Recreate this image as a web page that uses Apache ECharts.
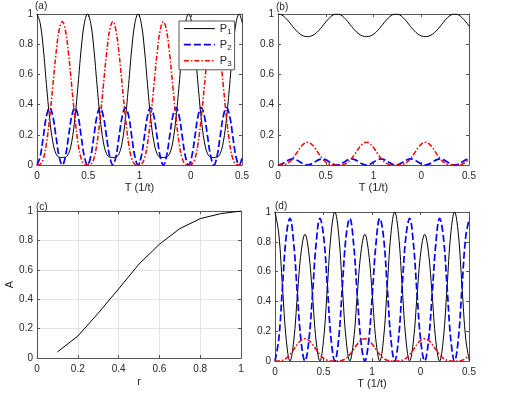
<!DOCTYPE html>
<html><head><meta charset="utf-8">
<script src="https://cdn.jsdelivr.net/npm/echarts@6/dist/echarts.min.js"></script>
<style>html,body{margin:0;padding:0;background:#fff}#c{width:518px;height:396px}</style>
</head><body><div id="c"></div>
<script>
// ---- tick labels ----
const tickLabelsT = ['0', '0.5', '1', '0', '0.5'];

// ---- panel (a) ----
const T_a = [0, 0.031, 0.062, 0.092, 0.123, 0.154, 0.185, 0.216, 0.247, 0.277, 0.308, 0.339, 0.370, 0.401, 0.431, 0.462,
  0.493, 0.524, 0.555, 0.585, 0.616, 0.647, 0.678, 0.709, 0.740, 0.770, 0.801, 0.832, 0.863, 0.894, 0.924, 0.955,
  0.986, 1.017, 1.048, 1.078, 1.109, 1.140, 1.171, 1.202, 1.233, 1.263, 1.294, 1.325, 1.356, 1.387, 1.417, 1.448,
  1.479, 1.510, 1.541, 1.571, 1.602, 1.633, 1.664, 1.695, 1.726, 1.756, 1.787, 1.818, 1.849, 1.880, 1.910, 1.941,
  1.972, 2.003];
const P1_a = [1, 0.939, 0.768, 0.534, 0.31, 0.154, 0.075, 0.052, 0.05, 0.052, 0.075, 0.154, 0.31, 0.534, 0.768, 0.939,
  1, 0.939, 0.768, 0.534, 0.31, 0.154, 0.075, 0.052, 0.05, 0.052, 0.075, 0.154, 0.31, 0.534, 0.768, 0.939,
  1, 0.939, 0.768, 0.534, 0.31, 0.154, 0.075, 0.052, 0.05, 0.052, 0.075, 0.154, 0.31, 0.534, 0.768, 0.939,
  1, 0.939, 0.768, 0.534, 0.31, 0.154, 0.075, 0.052, 0.05, 0.052, 0.075, 0.154, 0.31, 0.534, 0.768, 0.939,
  1, 0.939];
const P2_a = [0, 0.056, 0.19, 0.324, 0.38, 0.324, 0.19, 0.056, 0, 0.056, 0.19, 0.324, 0.38, 0.324, 0.19, 0.056,
  0, 0.056, 0.19, 0.324, 0.38, 0.324, 0.19, 0.056, 0, 0.056, 0.19, 0.324, 0.38, 0.324, 0.19, 0.056,
  0, 0.056, 0.19, 0.324, 0.38, 0.324, 0.19, 0.056, 0, 0.056, 0.19, 0.324, 0.38, 0.324, 0.19, 0.056,
  0, 0.056, 0.19, 0.324, 0.38, 0.324, 0.19, 0.056, 0, 0.056, 0.19, 0.324, 0.38, 0.324, 0.19, 0.056,
  0, 0.056];
const P3_a = [0, 0.005, 0.042, 0.142, 0.31, 0.522, 0.735, 0.892, 0.95, 0.892, 0.735, 0.522, 0.31, 0.142, 0.042, 0.005,
  0, 0.005, 0.042, 0.142, 0.31, 0.522, 0.735, 0.892, 0.95, 0.892, 0.735, 0.522, 0.31, 0.142, 0.042, 0.005,
  0, 0.005, 0.042, 0.142, 0.31, 0.522, 0.735, 0.892, 0.95, 0.892, 0.735, 0.522, 0.31, 0.142, 0.042, 0.005,
  0, 0.005, 0.042, 0.142, 0.31, 0.522, 0.735, 0.892, 0.95, 0.892, 0.735, 0.522, 0.31, 0.142, 0.042, 0.005,
  0, 0.005];

// ---- panels (b) and (d) share the time grid ----
const T_bd = [0, 0.039, 0.077, 0.116, 0.154, 0.193, 0.231, 0.270, 0.309, 0.347, 0.386, 0.424, 0.463, 0.501, 0.540, 0.578,
  0.617, 0.656, 0.694, 0.733, 0.771, 0.810, 0.848, 0.887, 0.926, 0.964, 1.003, 1.041, 1.080, 1.118, 1.157, 1.195,
  1.234, 1.273, 1.311, 1.350, 1.388, 1.427, 1.465, 1.504, 1.543, 1.581, 1.620, 1.658, 1.697, 1.735, 1.774, 1.812,
  1.851, 1.890, 1.928, 1.967, 2.005];
const P1_b = [1, 0.994, 0.975, 0.948, 0.917, 0.889, 0.867, 0.854, 0.85, 0.854, 0.867, 0.889, 0.917, 0.948, 0.975, 0.994,
  1, 0.994, 0.975, 0.948, 0.917, 0.889, 0.867, 0.854, 0.85, 0.854, 0.867, 0.889, 0.917, 0.948, 0.975, 0.994,
  1, 0.994, 0.975, 0.948, 0.917, 0.889, 0.867, 0.854, 0.85, 0.854, 0.867, 0.889, 0.917, 0.948, 0.975, 0.994,
  1, 0.994, 0.975, 0.948, 0.917];
const P2_b = [0, 0.006, 0.02, 0.034, 0.04, 0.034, 0.02, 0.006, 0, 0.006, 0.02, 0.034, 0.04, 0.034, 0.02, 0.006,
  0, 0.006, 0.02, 0.034, 0.04, 0.034, 0.02, 0.006, 0, 0.006, 0.02, 0.034, 0.04, 0.034, 0.02, 0.006,
  0, 0.006, 0.02, 0.034, 0.04, 0.034, 0.02, 0.006, 0, 0.006, 0.02, 0.034, 0.04, 0.034, 0.02, 0.006,
  0, 0.006, 0.02, 0.034, 0.04];
const P3_b = [0, 0, 0.005, 0.018, 0.043, 0.077, 0.113, 0.14, 0.15, 0.14, 0.113, 0.077, 0.043, 0.018, 0.005, 0,
  0, 0, 0.005, 0.018, 0.043, 0.077, 0.113, 0.14, 0.15, 0.14, 0.113, 0.077, 0.043, 0.018, 0.005, 0,
  0, 0, 0.005, 0.018, 0.043, 0.077, 0.113, 0.14, 0.15, 0.14, 0.113, 0.077, 0.043, 0.018, 0.005, 0,
  0, 0, 0.005, 0.018, 0.043];
const P1_d = [1, 0.853, 0.498, 0.144, 0, 0.135, 0.444, 0.734, 0.85, 0.734, 0.444, 0.135, 0, 0.144, 0.498, 0.853,
  1, 0.853, 0.498, 0.144, 0, 0.135, 0.444, 0.734, 0.85, 0.734, 0.444, 0.135, 0, 0.144, 0.498, 0.853,
  1, 0.853, 0.498, 0.144, 0, 0.135, 0.444, 0.734, 0.85, 0.734, 0.444, 0.135, 0, 0.144, 0.498, 0.853,
  1, 0.853, 0.498, 0.144, 0];
const P2_d = [0, 0.147, 0.498, 0.838, 0.957, 0.788, 0.444, 0.126, 0, 0.126, 0.444, 0.788, 0.957, 0.838, 0.498, 0.147,
  0, 0.147, 0.498, 0.838, 0.957, 0.788, 0.444, 0.126, 0, 0.126, 0.444, 0.788, 0.957, 0.838, 0.498, 0.147,
  0, 0.147, 0.498, 0.838, 0.957, 0.788, 0.444, 0.126, 0, 0.126, 0.444, 0.788, 0.957, 0.838, 0.498, 0.147,
  0, 0.147, 0.498, 0.838, 0.957];
const P3_d = [0, 0, 0.005, 0.018, 0.043, 0.077, 0.113, 0.14, 0.15, 0.14, 0.113, 0.077, 0.043, 0.018, 0.005, 0,
  0, 0, 0.005, 0.018, 0.043, 0.077, 0.113, 0.14, 0.15, 0.14, 0.113, 0.077, 0.043, 0.018, 0.005, 0,
  0, 0, 0.005, 0.018, 0.043, 0.077, 0.113, 0.14, 0.15, 0.14, 0.113, 0.077, 0.043, 0.018, 0.005, 0,
  0, 0, 0.005, 0.018, 0.043];

// ---- panel (c) ----
const r_c = [0.1, 0.2, 0.3, 0.4, 0.5, 0.6, 0.7, 0.8, 0.9, 1.0];
const A_c = [0.041, 0.149, 0.305, 0.47, 0.639, 0.774, 0.88, 0.948, 0.982, 1.0];

// ---- rendering ----
const FONT = '"Liberation Sans", Arial, Helvetica, sans-serif';
const AXC = '#262626';
const LINEC = '#555';
const chart = echarts.init(document.getElementById('c'), null, {renderer: 'canvas'});

const grids = [
  {left: 37, top: 14, width: 205, height: 151},
  {left: 278, top: 14, width: 191, height: 151},
  {left: 37, top: 211, width: 204, height: 147},
  {left: 275, top: 212, width: 194, height: 149}
];

const xAxes = [], yAxes = [];
function addAxes(gi, xcfg, ycfg) {
  const common = {
    gridIndex: gi, type: 'value',
    axisLine: {show: true, onZero: false, lineStyle: {color: LINEC, width: 1}},
    axisTick: {show: true, inside: true, length: 3, lineStyle: {color: LINEC, width: 1}},
  };
  xAxes.push(Object.assign({}, common, {
    position: 'bottom', min: xcfg.min, max: xcfg.max, interval: xcfg.interval,
    axisLabel: {show: true, color: AXC, fontSize: 10, fontFamily: FONT, margin: 6, formatter: xcfg.formatter},
    splitLine: {show: !!xcfg.grid, lineStyle: {color: '#e3e3e3', width: 1}},
    name: xcfg.name, nameLocation: 'middle', nameGap: xcfg.nameGap,
    nameTextStyle: {color: AXC, fontSize: 11, fontFamily: FONT}
  }));
  xAxes.push(Object.assign({}, common, {
    position: 'top', min: xcfg.min, max: xcfg.max, interval: xcfg.interval,
    axisLabel: {show: false}, splitLine: {show: false}
  }));
  yAxes.push(Object.assign({}, common, {
    position: 'left', min: 0, max: 1, interval: 0.2,
    axisLabel: {show: true, color: AXC, fontSize: 10, fontFamily: FONT, margin: 4},
    splitLine: {show: !!ycfg.grid, lineStyle: {color: '#e3e3e3', width: 1}},
    name: ycfg.name, nameLocation: 'middle', nameGap: ycfg.nameGap || 20,
    nameTextStyle: {color: AXC, fontSize: 11, fontFamily: FONT}
  }));
  yAxes.push(Object.assign({}, common, {
    position: 'right', min: 0, max: 1, interval: 0.2,
    axisLabel: {show: false}, splitLine: {show: false}
  }));
}
const fmtT = v => tickLabelsT[Math.round(v / 0.5)];
addAxes(0, {min: 0, max: 2, interval: 0.5, formatter: fmtT, name: 'T (1/t)', nameGap: 17}, {});
addAxes(1, {min: 0, max: 2, interval: 0.5, formatter: fmtT, name: 'T (1/t)', nameGap: 17}, {});
addAxes(2, {min: 0, max: 1, interval: 0.2, name: 'r', nameGap: 18, grid: true}, {name: 'A', nameGap: 19, grid: true});
addAxes(3, {min: 0, max: 2, interval: 0.5, formatter: fmtT, name: 'T (1/t)', nameGap: 17}, {});

const zip = (xs, ys) => xs.map((x, i) => [x, ys[i]]);
const styles = {
  k: {color: '#000000', width: 1, type: 'solid'},
  b: {color: '#0000ff', width: 1.7, type: [7, 3]},
  r: {color: '#ff0000', width: 1.5, type: [5, 2, 1.5, 2]}
};
function ser(name, gi, xs, ys, st, smooth) {
  return {
    name, type: 'line', xAxisIndex: gi * 2, yAxisIndex: gi * 2,
    data: zip(xs, ys), showSymbol: false, symbol: 'none', smooth: smooth, clip: true,
    lineStyle: Object.assign({}, st), itemStyle: {color: st.color}, emphasis: {disabled: true}
  };
}
const series = [
  ser('P1', 0, T_a, P1_a, styles.k, 0.4),
  ser('P2', 0, T_a, P2_a, styles.b, 0.4),
  ser('P3', 0, T_a, P3_a, styles.r, 0.4),
  ser('P1b', 1, T_bd, P1_b, styles.k, 0.4),
  ser('P2b', 1, T_bd, P2_b, styles.b, 0.4),
  ser('P3b', 1, T_bd, P3_b, styles.r, 0.4),
  ser('A', 2, r_c, A_c, styles.k, false),
  ser('P1d', 3, T_bd, P1_d, styles.k, 0.4),
  ser('P2d', 3, T_bd, P2_d, styles.b, 0.4),
  ser('P3d', 3, T_bd, P3_d, styles.r, 0.4)
];

const panelLabel = (txt, x, y) => ({
  type: 'text', left: x, top: y,
  style: {text: txt, fill: AXC, font: '10px ' + FONT}
});

chart.setOption({
  animation: false,
  backgroundColor: '#fff',
  grid: grids,
  xAxis: xAxes,
  yAxis: yAxes,
  legend: {
    data: ['P1', 'P2', 'P3'], orient: 'vertical', left: 179, top: 21,
    itemWidth: 31, itemHeight: 14, itemGap: 3.5, padding: [2, 3, 2, 4],
    backgroundColor: '#fff', borderColor: LINEC, borderWidth: 1,
    selectedMode: false,
    itemStyle: {color: 'rgba(0,0,0,0)', opacity: 0, borderWidth: 0},
    lineStyle: {width: 'inherit', type: 'inherit', color: 'inherit'},
    formatter: n => 'P{s|' + n.slice(1) + '}',
    textStyle: {color: AXC, fontSize: 11, fontFamily: FONT,
      rich: {s: {fontSize: 8, fontFamily: FONT, color: AXC, padding: [6, 0, 0, 0]}}}
  },
  graphic: [
    panelLabel('(a)', 35, 1),
    panelLabel('(b)', 276, 2),
    panelLabel('(c)', 36, 202),
    panelLabel('(d)', 275, 201)
  ],
  series
});
</script>
</body></html>
